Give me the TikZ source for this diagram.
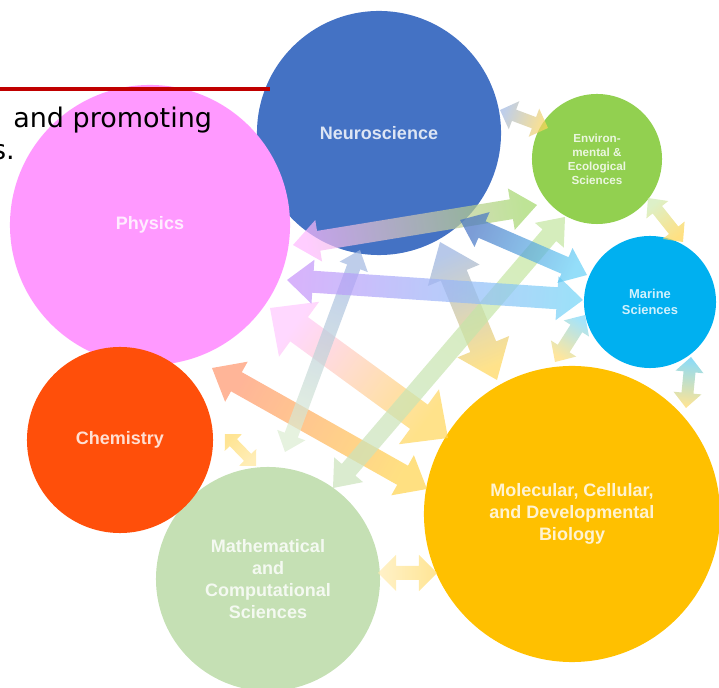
\documentclass[tikz,border=0pt]{standalone}
\usepackage{fontspec}
\usepackage{xcolor}
\usepackage{tikz}
\usetikzlibrary{calc}
\setmainfont{DejaVu Sans}
\newfontfamily\circfont{Liberation Sans}

\definecolor{physpink}{HTML}{FF99FF}
\definecolor{neuroblue}{HTML}{4472C4}
\definecolor{envgreen}{HTML}{92D050}
\definecolor{marinecyan}{HTML}{00B0F0}
\definecolor{chemred}{HTML}{FF4F0A}
\definecolor{compgreen}{HTML}{C5E0B4}
\definecolor{biogold}{HTML}{FFC000}
\definecolor{rulered}{HTML}{C00000}
\definecolor{linkviolet}{HTML}{B878F8}

\newcommand{\linkarrow}[7]{%
  \pgfpointdiff{\pgfpointanchor{#1}{center}}{\pgfpointanchor{#2}{center}}%
  \pgfgetlastxy{\lkx}{\lky}%
  \pgfmathsetmacro{\lkang}{atan2(\lky,\lkx)+90}%
  \shade[link, left color=#6, right color=#7, shading angle=\lkang]
    (#1) -- ($(#1)!#5!(#2)!#4!90:(#2)$) -- ($(#1)!#5!(#2)!#3!90:(#2)$)
    -- ($(#2)!#5!(#1)!#3!-90:(#1)$) -- ($(#2)!#5!(#1)!#4!-90:(#1)$)
    -- (#2) -- ($(#2)!#5!(#1)!#4!90:(#1)$) -- ($(#2)!#5!(#1)!#3!90:(#1)$)
    -- ($(#1)!#5!(#2)!#3!-90:(#2)$) -- ($(#1)!#5!(#2)!#4!-90:(#2)$) -- cycle;
}

\begin{document}
\begin{tikzpicture}[x=0.025cm, y=0.025cm]
\tikzstyle{every node}+=[inner sep=0pt]
\tikzstyle{field}=[circle, align=center, text=white, text opacity=0.82, font=\circfont\bfseries\fontsize{12.8}{15.6}\selectfont]
\tikzstyle{link}=[fill opacity=0.7]
\useasboundingbox (0,0) rectangle (719,-688);
\node [field, fill=neuroblue, minimum size=6.1cm] (neuro) at (379,-133) {Neuroscience};
\node [field, fill=physpink, minimum size=7cm] (phys) at (150,-225) {Physics};
\node [field, fill=compgreen, minimum size=5.6cm] (comp) at (268,-579) {Mathematical\\and\\Computational\\Sciences};
\node [field, fill=chemred, minimum size=4.65cm] (chem) at (120,-440) {Chemistry};
\node [field, fill=envgreen, minimum size=3.25cm, font=\circfont\bfseries\fontsize{8.3}{10}\selectfont] (env) at (597,-159) {Environ-\\mental \&\\Ecological\\Sciences};
\node [field, fill=marinecyan, minimum size=3.3cm, font=\circfont\bfseries\fontsize{9.2}{11.9}\selectfont] (marine) at (650,-302) {Marine\\Sciences};
\node [field, fill=biogold, minimum size=7.4cm] (bio) at (572,-514) {Molecular, Cellular,\\and Developmental\\Biology};
\coordinate (ne1) at (500,-110);
\coordinate (ne2) at (548,-128);
\coordinate (pe1) at (293,-245);
\coordinate (pe2) at (537,-205);
\coordinate (pm1) at (287,-280);
\coordinate (pm2) at (583,-300);
\coordinate (nm1) at (460,-220);
\coordinate (nm2) at (587,-275);
\coordinate (nb1) at (440,-242);
\coordinate (nb2) at (497,-380);
\coordinate (mb1) at (585,-315);
\coordinate (mb2) at (555,-362);
\coordinate (em1) at (648,-198);
\coordinate (em2) at (683,-242);
\coordinate (mv1) at (691,-357);
\coordinate (mv2) at (686,-408);
\coordinate (pb1) at (270,-308);
\coordinate (pb2) at (448,-438);
\coordinate (cb1) at (212,-368);
\coordinate (cb2) at (427,-489);
\coordinate (nc1) at (360,-250);
\coordinate (nc2) at (285,-452);
\coordinate (ec1) at (565,-217);
\coordinate (ec2) at (333,-488);
\coordinate (cc1) at (225,-434);
\coordinate (cc2) at (256,-466);
\coordinate (kb1) at (378,-573);
\coordinate (kb2) at (437,-573);
\linkarrow{ne1}{ne2}{1.5mm}{3.75mm}{3.75mm}{white!50!neuroblue}{biogold!65}
\linkarrow{pb1}{pb2}{3.75mm}{8.5mm}{9mm}{physpink!55}{biogold!65}
\linkarrow{cb1}{cb2}{2.75mm}{5.75mm}{7mm}{chemred!60!white}{biogold!70}
\linkarrow{nc1}{nc2}{1.75mm}{3.75mm}{4.5mm}{neuroblue!50}{compgreen!60}
\linkarrow{nb1}{nb2}{3.5mm}{7mm}{9mm}{neuroblue!55}{biogold!65}
\linkarrow{ec1}{ec2}{2.25mm}{4.75mm}{6mm}{envgreen!55}{compgreen!90}
\linkarrow{pe1}{pe2}{2.5mm}{5.25mm}{6.5mm}{physpink!70}{envgreen!85}
\linkarrow{pm1}{pm2}{2.75mm}{5.5mm}{6.5mm}{linkviolet!80}{marinecyan!55}
\linkarrow{nm1}{nm2}{2.25mm}{4.75mm}{6mm}{neuroblue}{marinecyan!60}
\linkarrow{mb1}{mb2}{1.75mm}{3.75mm}{4mm}{marinecyan!50}{biogold!55}
\linkarrow{em1}{em2}{1.5mm}{3.5mm}{3.75mm}{envgreen!45}{biogold!70}
\linkarrow{mv1}{mv2}{1.5mm}{3.5mm}{3.75mm}{marinecyan!65}{biogold!60}
\linkarrow{cc1}{cc2}{1.25mm}{3mm}{3mm}{biogold!60}{biogold!40}
\linkarrow{kb1}{kb2}{1.75mm}{4.5mm}{4.5mm}{biogold!30}{biogold!60}
\draw [rulered, line width=2.8pt] (0,-89) -- (270,-89);
\node [anchor=base west, font=\fontsize{19.2}{23}\selectfont] (intro) at (13,-128) {and promoting};
\node [anchor=base east, font=\fontsize{19.2}{23}\selectfont] (introend) at (15,-160) {s.};
\end{tikzpicture}
\end{document}
